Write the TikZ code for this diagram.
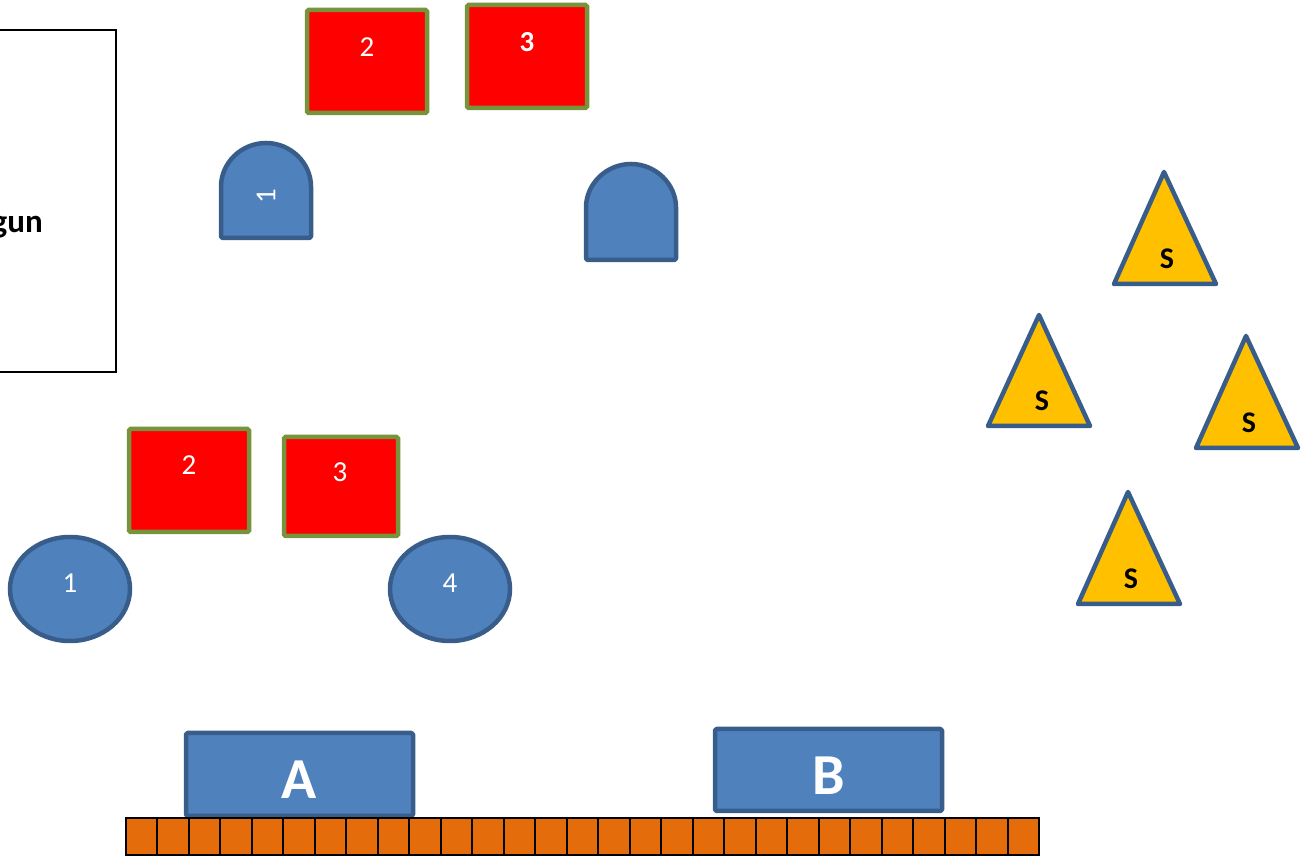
\documentclass[tikz,border=0pt]{standalone}
\usepackage{fontspec}
\setmainfont{Carlito}
\definecolor{rd}{HTML}{FF0000}
\definecolor{olv}{HTML}{77933C}
\definecolor{bfill}{HTML}{4F81BD}
\definecolor{bline}{HTML}{385D8A}
\definecolor{gold}{HTML}{FFC000}
\definecolor{org}{HTML}{E46C0A}
\begin{document}
\begin{tikzpicture}[x=1pt,y=1pt,
  redbox/.style={fill=rd,draw=olv,line width=4.5pt,rounded corners=1.5pt},
  bluebox/.style={fill=bfill,draw=bline,line width=4.5pt,rounded corners=1.5pt,line join=round},
  tri/.style={fill=gold,draw=bline,line width=4.5pt,line join=round},
  cell/.style={fill=org,draw=black,line width=2pt},
  wtxt/.style={text=white,font=\fontsize{29}{34}\selectfont,inner sep=0pt},
  btxt/.style={text=black,font=\fontsize{30}{34}\selectfont\bfseries,inner sep=0pt}]
\useasboundingbox (0,0) rectangle (1308,856);
% left box
\draw[line width=1.5pt] (-5,484) rectangle (116,826);
\node[btxt,anchor=base east,font=\fontsize{33}{38}\selectfont\bfseries] (gun) at (43,623) {gun};
% top red squares
\draw[redbox] (307,743) rectangle (427,846);
\node[wtxt] (t2) at (367,809) {2};
\draw[redbox] (467,748) rectangle (587,851);
\node[wtxt,font=\fontsize{29}{34}\selectfont\bfseries] (t3) at (527,814) {3};
% arches
\draw[bluebox] (221,618) -- (221,668) arc[start angle=180,end angle=0,radius=45] -- (311,618) -- cycle;
\node[wtxt,rotate=90] (a1) at (266,660) {1};
\draw[bluebox] (586,596) -- (586,647) arc[start angle=180,end angle=0,radius=45] -- (676,596) -- cycle;
% lower red squares
\draw[redbox] (129,324) rectangle (249,427);
\node[wtxt] (l2) at (189,391) {2};
\draw[redbox] (284,320) rectangle (398,419);
\node[wtxt] (l3) at (340,384) {3};
% ellipses
\draw[fill=bfill,draw=bline,line width=4.5pt] (70,267) ellipse[x radius=60,y radius=52];
\node[wtxt] (e1) at (70,273) {1};
\draw[fill=bfill,draw=bline,line width=4.5pt] (450,267) ellipse[x radius=60,y radius=52];
\node[wtxt] (e4) at (450,273) {4};
% triangles
\draw[tri] (1164,684) -- (1216,572) -- (1114,572) -- cycle;
\node[btxt] (s1) at (1167,597) {S};
\draw[tri] (1039,541) -- (1090,430) -- (988,430) -- cycle;
\node[btxt] (s2) at (1042,455) {S};
\draw[tri] (1246,520) -- (1298,408) -- (1196,408) -- cycle;
\node[btxt] (s3) at (1249,433) {S};
\draw[tri] (1128,364) -- (1180,252) -- (1078,252) -- cycle;
\node[btxt] (s4) at (1131,277) {S};
% blocks A and B
\draw[bluebox] (186,40) rectangle (413,123);
\node[wtxt,font=\fontsize{58}{64}\selectfont\bfseries] (A) at (299,76) {A};
\draw[bluebox] (715,45) rectangle (942,127);
\node[wtxt,font=\fontsize{58}{64}\selectfont\bfseries] (B) at (829,80) {B};
% strip
\foreach \i in {0,...,28} {
  \draw[cell] ({126+\i*31.483},1.5) rectangle ({126+(\i+1)*31.483},38);
}
\end{tikzpicture}
\end{document}
